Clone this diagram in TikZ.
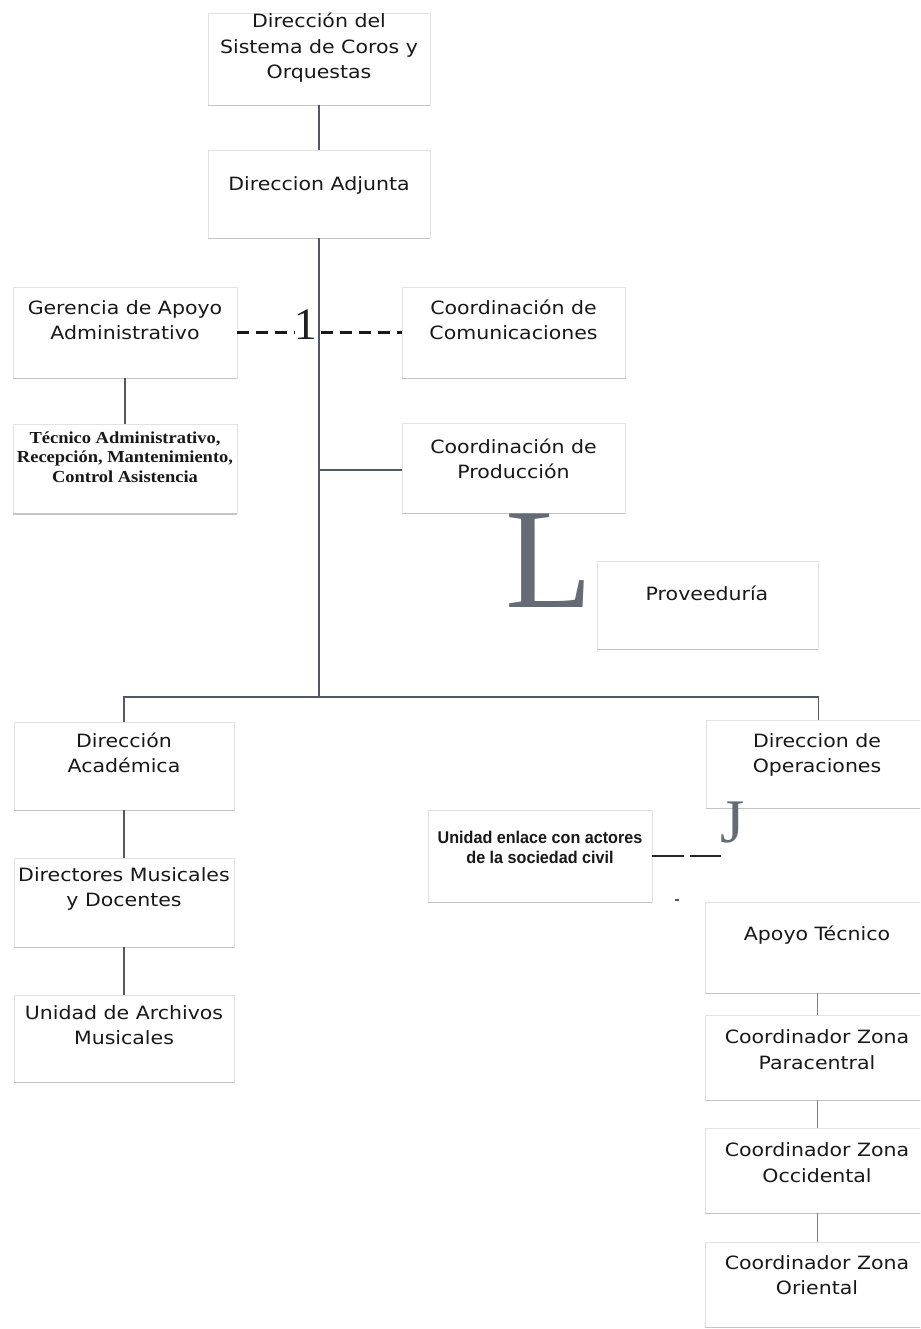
\documentclass[tikz,border=0pt]{standalone}
\usepackage{fontspec}
\setmainfont{DejaVu Sans}
\newfontfamily\boxfont{DejaVu Sans}[FakeStretch=1.12]
\newfontfamily\tecfont{Liberation Serif}[FakeStretch=1.1]
\newfontfamily\enlfont{Liberation Sans}[FakeStretch=0.95]
\newfontfamily\bigserif{Liberation Serif}
\definecolor{boxgray}{HTML}{E2E2E2}
\definecolor{edgegray}{HTML}{C4C4C4}
\definecolor{connc}{HTML}{525866}
\definecolor{textc}{HTML}{181818}
\definecolor{bigc}{HTML}{656B75}
\begin{document}
\begin{tikzpicture}[x=1pt,y=-1pt,
  box/.style={draw=boxgray,line width=0.8pt,fill=white,inner sep=0pt,minimum width=#1},
  box/.default=222pt,
  txt/.style={font=\boxfont\fontsize{18.3}{25.5}\selectfont,align=center,text=textc,inner sep=0pt},
  tectxt/.style={font=\tecfont\bfseries\fontsize{16.8}{19.5}\selectfont,align=center,text=textc,inner sep=0pt},
  enltxt/.style={font=\enlfont\bfseries\fontsize{17}{20}\selectfont,align=center,text=textc,inner sep=0pt},
  conn/.style={draw=connc,line width=1.8pt},
  lconn/.style={draw=connc!75,line width=1.4pt},
  dashk/.style={draw=black!90,line width=2.6pt,dash pattern=on 12pt off 7pt},
  bottomedge/.style={draw=edgegray,line width=1.2pt}]
\useasboundingbox (0,0) rectangle (920,1329);
\fill[white] (0,0) rectangle (920,1329);
\begin{scope}
\clip (0,0) rectangle (920,1329);
% boxes
\node[box, minimum height=92pt] (b1) at (319,59) {};
\node[box, minimum height=88pt] (b2) at (319,194) {};
\node[box=224pt, minimum height=91pt] (ger) at (125,332.5) {};
\node[box=224pt, minimum height=89pt] (tec) at (125,469) {};
\node[box=223pt, minimum height=91pt] (com) at (513.5,332.5) {};
\node[box=223pt, minimum height=90pt] (prod) at (513.5,468) {};
\node[box=221pt, minimum height=88pt] (prov) at (707.5,605) {};
\node[box=220pt, minimum height=88pt] (acad) at (124,766) {};
\node[box=220pt, minimum height=89pt] (doc) at (124,902.5) {};
\node[box=220pt, minimum height=87pt] (arch) at (124,1038.5) {};
\node[box=224pt, minimum height=88pt] (oper) at (818.5,764) {};
\node[box=224pt, minimum height=92pt] (enl) at (540,856) {};
\node[box=225pt, minimum height=91pt] (apoyo) at (817.5,947.5) {};
\node[box=225pt, minimum height=85pt] (para) at (817.5,1057.5) {};
\node[box=225pt, minimum height=85pt] (occ) at (817.5,1170.5) {};
\node[box=225pt, minimum height=85pt] (ori) at (817.5,1284.5) {};
\foreach \n in {b1,b2,ger,tec,com,prod,prov,acad,doc,arch,oper,enl,apoyo,para,occ,ori}
  \draw[bottomedge] (\n.south west) -- (\n.south east);
% texts
\node[txt] (t1) at (319,48) {Dirección del\\Sistema de Coros y\\Orquestas};
\node[txt] (t2) at (319,185) {Direccion Adjunta};
\node[txt] (tger) at (125,320) {Gerencia de Apoyo\\Administrativo};
\node[tectxt] (ttec) at (125,457) {Técnico Administrativo,\\Recepción, Mantenimiento,\\Control Asistencia};
\node[txt] (tcom) at (513.5,320) {Coordinación de\\Comunicaciones};
\node[txt] (tprod) at (513.5,459) {Coordinación de\\Producción};
\node[txt] (tprov) at (707,593) {Proveeduría};
\node[txt] (tacad) at (124,753) {Dirección\\Académica};
\node[txt] (tdoc) at (124,889) {Directores Musicales\\y Docentes};
\node[txt] (tarch) at (124,1025) {Unidad de Archivos\\Musicales};
\node[txt] (toper) at (817,755) {Direccion de\\Operaciones};
\node[enltxt] (tenl) at (540,847) {Unidad enlace con actores\\de la sociedad civil};
\node[txt] (tapoyo) at (817,935) {Apoyo Técnico};
\node[txt] (tpara) at (817,1049.5) {Coordinador Zona\\Paracentral};
\node[txt] (tocc) at (817,1162.5) {Coordinador Zona\\Occidental};
\node[txt] (tori) at (817,1275) {Coordinador Zona\\Oriental};
% big letters
\node[inner sep=0pt,text=black!88,font=\bigserif\fontsize{45}{45}\selectfont] (one) at (306,325) {1};
\node[inner sep=0pt,text=bigc,font=\bigserif\fontsize{143}{143}\selectfont] (ell) at (549,561) {L};
\node[inner sep=0pt,text=bigc,font=\bigserif\fontsize{62}{62}\selectfont] (jay) at (733,822) {J};
% connectors
\coordinate (jt) at (319,697);
\coordinate (pj) at (319,470);
\draw[conn] (b1.south) -- (b2.north);
\draw[conn] (b2.south) -- (jt);
\draw[conn] (acad.north) |- (jt) -| (oper.north);
\draw[conn] (pj) -- (pj -| prod.west);
\draw[conn] (ger.south) -- (tec.north);
\draw[conn] (acad.south) -- (doc.north);
\draw[conn] (doc.south) -- (arch.north);
\draw[lconn] (apoyo.south) -- (para.north);
\draw[lconn] (para.south) -- (occ.north);
\draw[lconn] (occ.south) -- (ori.north);
\draw[dashk] (ger.east) -- (ger.east -| one.west);
\draw[dashk] ([xshift=4pt]com.west -| one.east) -- (com.west);
\draw[draw=black!85,line width=2.4pt,dash pattern=on 32pt off 6pt] (enl.east) -- (enl.east -| jay.west);
\draw[draw=connc,line width=1.5pt] (675,900) -- (679,900);
\end{scope}
\end{tikzpicture}
\end{document}
